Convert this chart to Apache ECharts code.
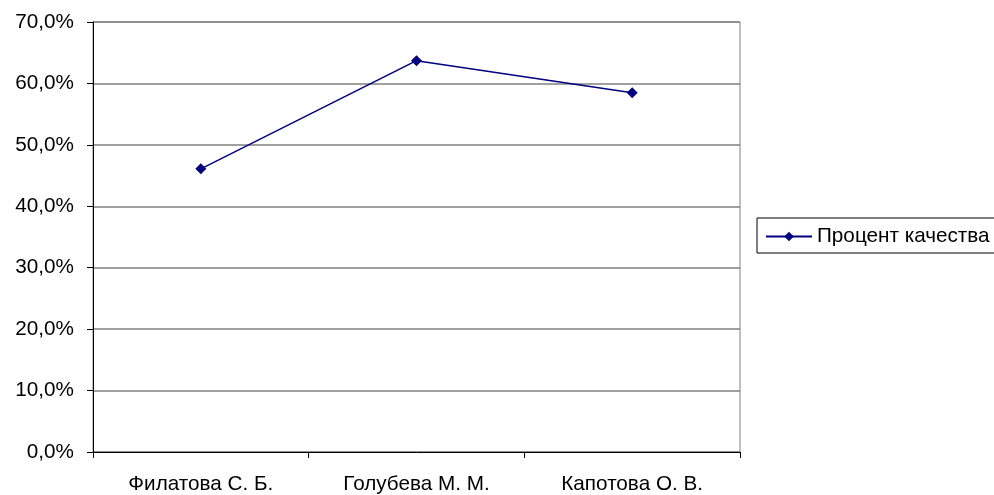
<!DOCTYPE html>
<html>
<head>
<meta charset="utf-8">
<script src="https://cdn.jsdelivr.net/npm/echarts@6/dist/echarts.min.js"></script>
<style>
html,body{margin:0;padding:0;background:#fff;}
#chart{width:994px;height:495px;}
</style>
</head>
<body>
<div id="chart"></div>
<script>
const categories = ['Филатова С. Б.', 'Голубева М. М.', 'Капотова О. В.'];
const seriesName = 'Процент качества';
const qualityValues = [46.1, 63.7, 58.5];
const yMin = 0, yMax = 70, yStep = 10;

const fontFamily = '"Liberation Sans", Arial, sans-serif';
const chart = echarts.init(document.getElementById('chart'), null, {renderer: 'canvas'});
chart.setOption({
  animation: false,
  backgroundColor: '#ffffff',
  grid: {left: 93, right: 254, top: 22, bottom: 43, show: true, borderColor: '#808080', borderWidth: 1, backgroundColor: 'transparent'},
  legend: {
    left: 757, top: 218,
    orient: 'vertical',
    padding: [8, 20, 6, 8],
    borderColor: '#000000', borderWidth: 1,
    itemWidth: 46, itemHeight: 12,
    textStyle: {fontFamily: fontFamily, fontSize: 20.7, color: '#000000'},
    data: [seriesName]
  },
  xAxis: {
    type: 'category',
    data: categories,
    boundaryGap: true,
    axisLine: {show: true, lineStyle: {color: '#000000', width: 1}},
    axisTick: {show: true, length: 6, lineStyle: {color: '#000000'}},
    axisLabel: {fontFamily: fontFamily, fontSize: 20.7, color: '#000000', margin: 22},
    splitLine: {show: false}
  },
  yAxis: {
    type: 'value',
    min: yMin, max: yMax, interval: yStep,
    axisLine: {show: true, lineStyle: {color: '#000000', width: 1}},
    axisTick: {show: true, length: 6, lineStyle: {color: '#000000'}},
    axisLabel: {fontFamily: fontFamily, fontSize: 20.7, color: '#000000', margin: 19,
      formatter: v => v.toFixed(1).replace('.', ',') + '%'},
    splitLine: {show: true, lineStyle: {color: '#808080', width: 1.5}}
  },
  series: [{
    name: seriesName,
    type: 'line',
    data: qualityValues,
    symbol: 'diamond',
    symbolSize: 11,
    color: '#000080',
    itemStyle: {color: '#000080'},
    lineStyle: {color: '#000080', width: 1.5}
  }]
});
</script>
</body>
</html>
